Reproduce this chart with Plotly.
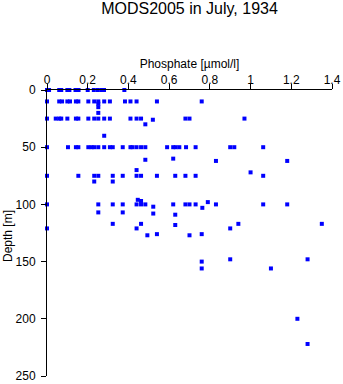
import plotly.graph_objects as go

depth_0 = [0, 0.01, 0.06, 0.07, 0.10, 0.11, 0.14, 0.155, 0.20, 0.23, 0.25, 0.27, 0.28, 0.38]
depth_10 = [0, 0.06, 0.074, 0.10, 0.113, 0.142, 0.154, 0.203, 0.232, 0.252, 0.281, 0.309,
            0.383, 0.41, 0.44, 0.54, 0.76]
depth_25 = [0, 0.043, 0.06, 0.07, 0.10, 0.142, 0.154, 0.203, 0.232, 0.252, 0.281, 0.309,
            0.41, 0.44, 0.462, 0.68, 0.70, 0.97]
depth_50 = [0, 0.103, 0.142, 0.154, 0.203, 0.219, 0.232, 0.252, 0.281, 0.309, 0.323, 0.372,
            0.41, 0.42, 0.44, 0.462, 0.483, 0.59, 0.62, 0.632, 0.65, 0.683, 0.73, 0.90, 0.92, 1.062]
depth_75 = [0, 0.154, 0.232, 0.252, 0.323, 0.372, 0.44, 0.462, 0.54, 0.63, 0.68, 0.73, 1.062]
depth_100 = [0, 0.252, 0.323, 0.372, 0.44, 0.462, 0.483, 0.62, 0.68, 0.70, 0.73, 0.83, 1.062, 1.18]

# scattered (non-standard depth) observations
other_phosphate = [0.252, 0.252, 0.252, 0.52, 0.483, 0.281, 0.62, 0.483, 0.83, 1.18,
                   0.44, 1.0, 0.232, 0.323, 0.446, 0.462, 0.79, 0.522, 0.763,
                   0.252, 0.372, 0.522, 0.63, 0.323, 0.462, 0.94, 1.35, 0.63,
                   0, 0.44, 0.90, 0.54, 0.76, 0.493, 0.70,
                   0.90, 1.28, 0.76, 0.76, 1.10, 1.23, 1.28]
other_depth = [12, 15, 20, 26, 30, 40, 60, 61, 62, 62,
               70, 72, 80, 80, 96, 97, 98, 102, 103,
               107, 107, 108, 109, 117, 117, 117, 117, 118,
               121, 121, 121, 126, 126, 127, 127,
               148, 148, 150, 156, 156, 200, 222]

standard = {0: depth_0, 10: depth_10, 25: depth_25, 50: depth_50, 75: depth_75, 100: depth_100}

phosphate = []
depth = []
for d, vals in standard.items():
    phosphate += vals
    depth += [d] * len(vals)
phosphate += other_phosphate
depth += other_depth

x_ticks = [0, 0.2, 0.4, 0.6, 0.8, 1, 1.2, 1.4]
y_ticks = [0, 50, 100, 150, 200, 250]

FONT = "Liberation Sans, Arial, sans-serif"

fig = go.Figure(go.Scatter(
    x=phosphate, y=depth, mode="markers",
    marker=dict(symbol="square", size=4, color="#0000ff", line=dict(width=0)),
    cliponaxis=False, showlegend=False,
))

fig.update_layout(
    width=343, height=384,
    margin=dict(l=47, r=11, t=90, b=8),
    paper_bgcolor="white", plot_bgcolor="white",
    font=dict(family=FONT, size=12, color="black"),
    title=dict(text="MODS2005 in July, 1934", x=0.5, xref="paper",
               y=1 - 8 / 384, yref="container", yanchor="middle",
               font=dict(size=16, family=FONT, color="black")),
    annotations=[dict(text="Depth [m]", textangle=-90, xref="paper", yref="paper",
                      x=-39 / 285, y=0.5 - 3 / 286, xanchor="center", yanchor="middle",
                      showarrow=False, font=dict(size=12, family=FONT, color="black"))],
)
fig.update_xaxes(
    side="top", range=[0, 1.4], tickvals=x_ticks, ticktext=[f"{t:g}" for t in x_ticks],
    showgrid=False, zeroline=False, showline=True, linecolor="black", linewidth=1,
    ticks="outside", ticklen=5, tickcolor="black", tickwidth=1,
    ticklabelstandoff=-5, automargin=False,
    title=dict(text="Phosphate [µmol/l]", standoff=2, font=dict(size=12)),
)
fig.update_yaxes(
    range=[250, 0], tickvals=y_ticks, ticktext=[str(t) for t in y_ticks],
    showgrid=False, zeroline=False, showline=True, linecolor="black", linewidth=1,
    ticks="outside", ticklen=5, tickcolor="black", tickwidth=1,
    ticklabelstandoff=3, automargin=False,
)

fig.write_html("out.html")
